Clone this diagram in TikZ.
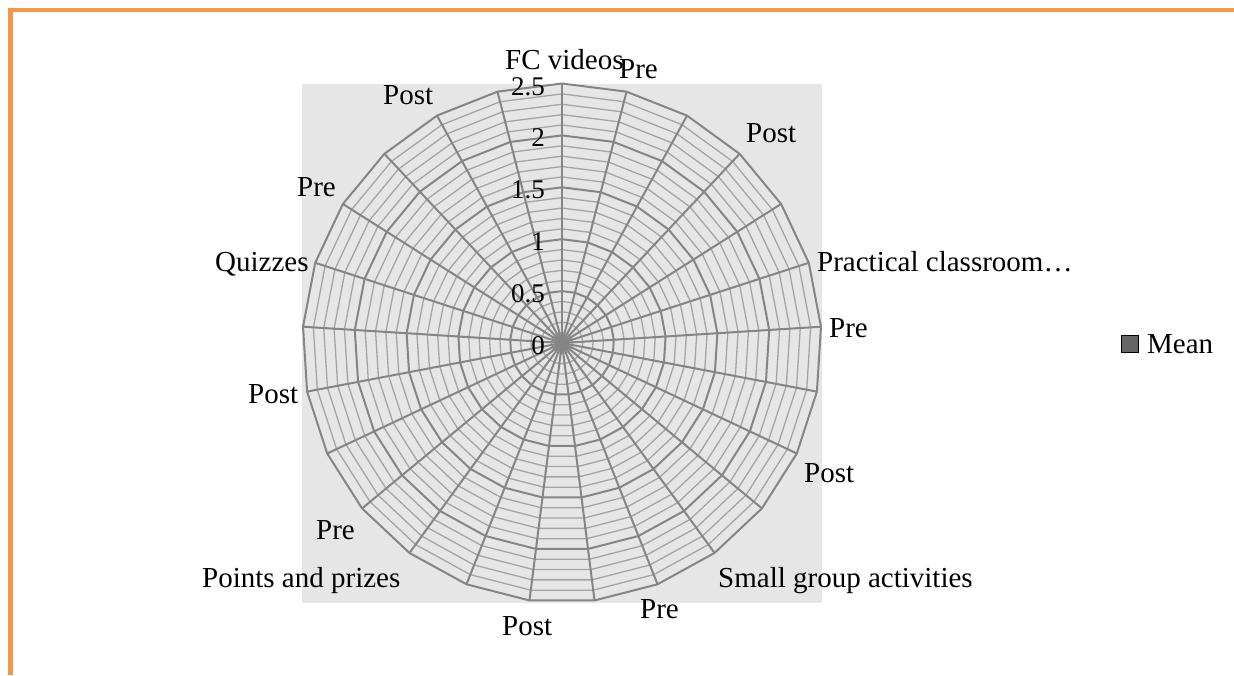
\documentclass[tikz,border=0pt]{standalone}
\usepackage{fontspec}
\setmainfont{Liberation Serif}
\definecolor{orangeb}{HTML}{F79646}
\definecolor{plotbg}{HTML}{E6E6E6}
\definecolor{majorc}{HTML}{858585}
\definecolor{minorc}{HTML}{A4A4A4}
\definecolor{meanfill}{HTML}{666666}
\begin{document}
\begin{tikzpicture}[x=1pt,y=-1pt,
  lbl/.style={font=\fontsize{29}{34}\selectfont, inner sep=0pt, anchor=base west},
  axnum/.style={font=\fontsize{27}{32}\selectfont, inner sep=0pt, anchor=east},
  majorline/.style={draw=majorc, line width=2pt, line join=round},
  minorline/.style={draw=minorc, line width=1.3pt, line join=round},
  frameline/.style={draw=orangeb, line width=4.6pt}]
\useasboundingbox (0,0) rectangle (1234,675);
% outer frame
\coordinate (fb) at (10.5,675);
\coordinate (fc) at (10.5,10);
\coordinate (fr) at (1234,10);
\draw[frameline] (fb) -- (fc) -- (fr);
% plot area
\fill[plotbg] (302,84) rectangle (822,603);
\coordinate (c) at (562,343);
\begin{scope}[shift={(c)}]
  % minor rings
  \foreach \k in {1,2,3,4,6,7,8,9,11,12,13,14,16,17,18,19,21,22,23,24}{
    \draw[minorline] (-90:{10.38*\k}) \foreach \i in {1,...,24}{ -- ({-90+14.4*\i}:{10.38*\k})} -- cycle;
  }
  % major rings
  \foreach \k in {5,10,15,20,25}{
    \draw[majorline] (-90:{10.38*\k}) \foreach \i in {1,...,24}{ -- ({-90+14.4*\i}:{10.38*\k})} -- cycle;
  }
  % spokes
  \foreach \i in {0,...,24}{
    \draw[majorline] (0,0) -- ({-90+14.4*\i}:259.5);
  }
\end{scope}
% axis numbers
\node[axnum] (v0) at (545,346) {0};
\node[axnum] (v05) at (545,294) {0.5};
\node[axnum] (v1) at (545,242) {1};
\node[axnum] (v15) at (545,190) {1.5};
\node[axnum] (v2) at (545,138) {2};
\node[axnum] (v25) at (545,87) {2.5};
% category labels
\node[lbl] (l0) at (505,69) {FC videos};
\node[lbl] (l1) at (619,78) {Pre};
\node[lbl] (l3) at (746,142) {Post};
\node[lbl] (l5) at (817,271) {Practical classroom…};
\node[lbl] (l6) at (829,337) {Pre};
\node[lbl] (l8) at (804,482) {Post};
\node[lbl] (l10) at (718,587) {Small group activities};
\node[lbl] (l11) at (640,618) {Pre};
\node[lbl] (l13) at (502,635) {Post};
\node[lbl] (l15) at (202,587) {Points and prizes};
\node[lbl] (l16) at (316,539) {Pre};
\node[lbl] (l18) at (248,403) {Post};
\node[lbl] (l20) at (215,271) {Quizzes};
\node[lbl] (l21) at (297,196) {Pre};
\node[lbl] (l23) at (383,104) {Post};
% legend
\node[draw=black, line width=0.8pt, fill=meanfill, minimum size=17pt, inner sep=0pt] (legsq) at (1129.5,344) {};
\node[lbl] (legtxt) at (1147,353) {Mean};
\end{tikzpicture}
\end{document}
